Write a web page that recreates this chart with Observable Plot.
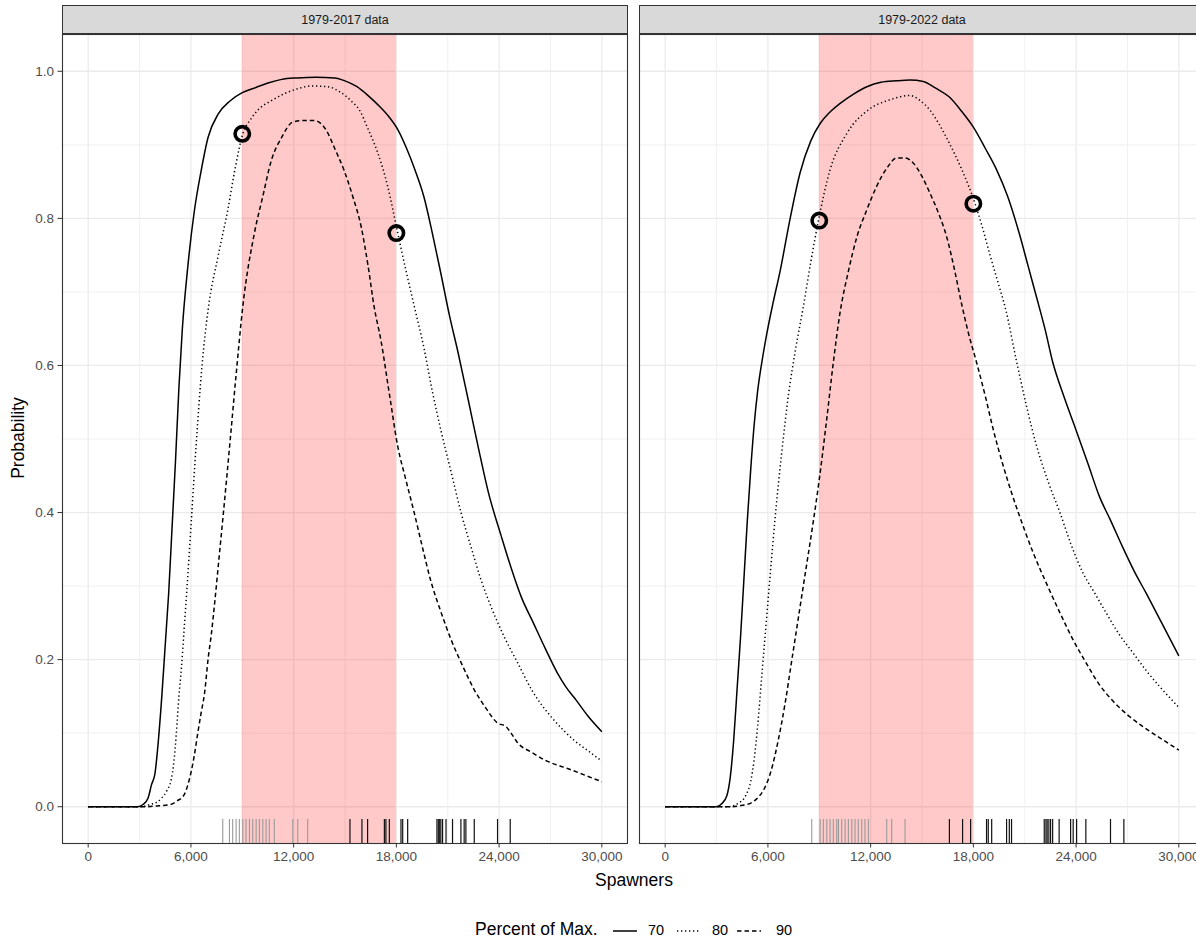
<!DOCTYPE html>
<html>
<head>
<meta charset="utf-8">
<script src="https://cdn.jsdelivr.net/npm/d3@7"></script>
<script src="https://cdn.jsdelivr.net/npm/@observablehq/plot@0.6"></script>
<style>
  html, body { margin: 0; padding: 0; background: #fff; }
  body { width: 1196px; height: 941px; overflow: hidden; font-family: "Liberation Sans", Arial, sans-serif; }
  #fig { position: relative; width: 1260px; height: 941px; }
  .strip { position: absolute; top: 5px; height: 29px; width: 566px; box-sizing: border-box;
           background: #D9D9D9; border: 1px solid #333; color: #1A1A1A; font-size: 12.5px;
           display: flex; align-items: center; justify-content: center; }
  .chart { position: absolute; top: 33px; }
  .title { position: absolute; color: #000; font-size: 17.5px; white-space: nowrap; }
  .leg { position: absolute; top: 920px; font-size: 14.5px; color: #000; white-space: nowrap; }
</style>
</head>
<body>
<div id="fig"></div>
<script>
// ---- data ----
const panels = ["1979-2017 data", "1979-2022 data"];
const band = [{x1: 9000, x2: 18000}];
const xTicks = [0, 6000, 12000, 18000, 24000, 30000];
const xMinor = [3000, 9000, 15000, 21000, 27000];
const yTicks = [0, 0.2, 0.4, 0.6, 0.8, 1.0];
const yMinor = [0.1, 0.3, 0.5, 0.7, 0.9];
const legendLevels = ["70", "80", "90"];

// 1979-2017 curves [spawners, probability]
const left70 = [[0,0],[2900,0],[3200,0.003],[3500,0.012],[3700,0.03],[3900,0.045],[4100,0.09],[4300,0.15],[4500,0.22],[4700,0.29],[4900,0.38],[5100,0.47],[5300,0.57],[5500,0.65],[5800,0.73],[6200,0.81],[6600,0.865],[7000,0.91],[7600,0.942],[8300,0.96],[9000,0.971],[9800,0.978],[10500,0.984],[11300,0.989],[12200,0.991],[13300,0.992],[14400,0.991],[15000,0.987],[15700,0.979],[16300,0.968],[16900,0.955],[17500,0.94],[18100,0.92],[18600,0.895],[19100,0.865],[19600,0.83],[20100,0.78],[20600,0.725],[21100,0.668],[21600,0.618],[22200,0.553],[22800,0.487],[23400,0.425],[24100,0.37],[24700,0.325],[25300,0.285],[26000,0.25],[26700,0.215],[27400,0.182],[27900,0.163],[28500,0.145],[29200,0.123],[30000,0.102]];
const left80 = [[0,0],[3100,0],[3600,0.003],[4000,0.006],[4300,0.012],[4600,0.022],[4850,0.037],[5000,0.06],[5150,0.1],[5300,0.15],[5450,0.19],[5600,0.24],[5750,0.29],[6000,0.38],[6300,0.49],[6650,0.6],[7000,0.675],[7600,0.75],[8150,0.811],[8600,0.87],[9030,0.915],[9500,0.935],[9900,0.947],[10700,0.96],[11500,0.97],[12200,0.976],[13000,0.98],[14000,0.979],[14700,0.972],[15350,0.96],[15900,0.945],[16300,0.924],[16900,0.89],[17500,0.843],[18080,0.78],[18600,0.725],[19050,0.68],[19600,0.625],[20100,0.565],[20600,0.512],[21200,0.455],[21800,0.398],[22400,0.35],[22950,0.308],[23600,0.268],[24300,0.231],[25100,0.195],[25900,0.159],[26500,0.138],[27200,0.118],[27800,0.103],[28400,0.09],[29200,0.076],[30000,0.062]];
const left90 = [[0,0],[3300,0],[4000,0.001],[4800,0.003],[5200,0.008],[5600,0.016],[5800,0.028],[6000,0.046],[6200,0.07],[6400,0.1],[6600,0.128],[6800,0.155],[7000,0.2],[7200,0.236],[7400,0.28],[7650,0.34],[7900,0.4],[8300,0.5],[8650,0.59],[9030,0.68],[9700,0.779],[10200,0.83],[10700,0.879],[11300,0.91],[11950,0.931],[12600,0.933],[13200,0.933],[13900,0.92],[14400,0.895],[14950,0.865],[15450,0.83],[15950,0.788],[16350,0.735],[16700,0.68],[17100,0.634],[17600,0.56],[18080,0.49],[18550,0.445],[19050,0.399],[19500,0.355],[20000,0.308],[20600,0.265],[21200,0.227],[21900,0.19],[22550,0.159],[23200,0.135],[23900,0.114],[24400,0.109],[24700,0.1],[25080,0.087],[25900,0.074],[26800,0.062],[28000,0.052],[29000,0.043],[30000,0.034]];

// 1979-2022 curves
const right70 = [[0,0],[3000,0],[3300,0.004],[3600,0.015],[3800,0.04],[4000,0.09],[4200,0.16],[4400,0.23],[4600,0.31],[4800,0.39],[5000,0.46],[5200,0.52],[5400,0.565],[5650,0.605],[5950,0.645],[6300,0.685],[6710,0.728],[7300,0.8],[7880,0.862],[8500,0.905],[9050,0.929],[9600,0.944],[10200,0.956],[11000,0.969],[11780,0.979],[12600,0.985],[13500,0.987],[14300,0.988],[15070,0.986],[15800,0.977],[16600,0.965],[17300,0.946],[18000,0.924],[18700,0.895],[19360,0.866],[20000,0.83],[20700,0.778],[21200,0.735],[21700,0.692],[22200,0.648],[22630,0.605],[23300,0.557],[24000,0.512],[24700,0.466],[25360,0.422],[26000,0.39],[26700,0.354],[27400,0.32],[28100,0.29],[29000,0.25],[30000,0.205]];
const right80 = [[0,0],[3700,0],[4300,0.005],[4700,0.015],[5000,0.035],[5200,0.065],[5400,0.11],[5650,0.18],[5900,0.25],[6150,0.32],[6450,0.4],[6800,0.48],[7200,0.56],[7600,0.62],[8070,0.68],[8500,0.74],[8950,0.797],[9630,0.866],[10600,0.915],[11960,0.949],[13100,0.961],[14300,0.967],[14900,0.96],[15470,0.947],[16000,0.928],[16600,0.902],[17350,0.865],[18100,0.82],[18500,0.79],[18950,0.752],[19400,0.716],[19900,0.675],[20500,0.608],[21100,0.545],[21700,0.49],[22400,0.44],[23070,0.399],[23700,0.357],[24400,0.318],[25100,0.29],[25770,0.263],[26500,0.235],[27330,0.209],[28100,0.185],[28900,0.163],[30000,0.135]];
const right90 = [[0,0],[3800,0],[4500,0.002],[5000,0.005],[5400,0.012],[5800,0.025],[6200,0.05],[6600,0.09],[7000,0.14],[7400,0.2],[7800,0.26],[8200,0.32],[8600,0.38],[9000,0.445],[9400,0.52],[9800,0.6],[10200,0.67],[10700,0.728],[11200,0.775],[11750,0.81],[12340,0.843],[13000,0.87],[13500,0.882],[14000,0.882],[14500,0.875],[15000,0.857],[15470,0.834],[16000,0.805],[16440,0.775],[16900,0.73],[17320,0.683],[17700,0.645],[18200,0.603],[18700,0.558],[19170,0.512],[19700,0.467],[20300,0.422],[20900,0.382],[21500,0.345],[22300,0.302],[23070,0.263],[23800,0.228],[24600,0.195],[25300,0.168],[26100,0.145],[27000,0.125],[27900,0.109],[29000,0.092],[30000,0.077]];

// highlighted points (80% curve at band edges)
const leftPts = [[9000, 0.915], [18000, 0.78]];
const rightPts = [[9000, 0.797], [18000, 0.82]];

// rug: spawner observations
const leftRugGray = [7860,8250,8440,8640,8830,9030,9220,9420,9610,9810,10000,10200,10390,10580,10870,11950,12240,12820];
const leftRugBlack = [15290,15990,16320,17300,17390,17590,18270,18370,18660,20370,20450,20530,20600,20700,20900,21280,21770,21960,22060,22550,23910,24650];
const rightRugGray = [8560,9050,9240,9440,9630,9820,10020,10120,10310,10510,10700,10900,11090,11280,11480,11670,11870,12940,13230,14010];
const rightRugBlack = [16600,17370,17840,18770,18870,19070,19940,20100,20230,22140,22240,22310,22410,22510,22630,23010,23680,23830,24030,24570,26010,26790];

// ---- drawing ----
const FONT = "'Liberation Sans', Arial, sans-serif";
const fmtX = d3.format(",");
const fmtY = d3.format(".1f");
const dash = {"70": null, "80": "1.3 2.7", "90": "4.5 3"};
const LW = 1.5;

function panel({curves, pts, rugGray, rugBlack, showY, marginLeft, width}) {
  const H = 809;
  const marks = [
    Plot.gridX(xMinor, {stroke: "#EBEBEB", strokeOpacity: 1, strokeWidth: 0.7}),
    Plot.gridY(yMinor, {stroke: "#EBEBEB", strokeOpacity: 1, strokeWidth: 0.7}),
    Plot.gridX(xTicks, {stroke: "#EBEBEB", strokeOpacity: 1, strokeWidth: 1.3}),
    Plot.gridY(yTicks, {stroke: "#EBEBEB", strokeOpacity: 1, strokeWidth: 1.3}),
    Plot.rect(band, {x1: "x1", x2: "x2", fill: "#FF0000", fillOpacity: 0.21}),
    ...legendLevels.map((lv, i) => Plot.line(curves[i], {
      x: d => d[0], y: d => d[1], stroke: "#000", strokeWidth: LW,
      strokeDasharray: dash[lv], strokeLinecap: "butt", curve: "monotone-x"
    })),
    Plot.dot(pts, {x: d => d[0], y: d => d[1], r: 7.2, stroke: "#000", strokeWidth: 3.6, fill: "none"}),
    Plot.ruleX(rugGray, {x: d => d, stroke: "#9A9A9A", strokeWidth: 1.1, insetTop: H - 24}),
    Plot.ruleX(rugBlack, {x: d => d, stroke: "#111", strokeWidth: 1.2, insetTop: H - 24}),
    Plot.frame({stroke: "#333", strokeWidth: 1.1}),
    Plot.axisX({ticks: xTicks, tickFormat: fmtX, tickSize: 4.5, tickPadding: 3, fontSize: 13.5,
                stroke: "#333", fill: "#4D4D4D", label: null})
  ];
  if (showY) marks.push(Plot.axisY({ticks: yTicks, tickFormat: fmtY, tickSize: 4.5, tickPadding: 4,
                fontSize: 13.5, stroke: "#333", fill: "#4D4D4D", label: null}));
  return Plot.plot({
    width, height: 1 + H + 30,
    marginTop: 1, marginBottom: 30, marginLeft, marginRight: 1,
    style: {fontFamily: FONT, background: "transparent", overflow: "visible"},
    x: {domain: [-1500, 31500], label: null},
    y: {domain: [-0.05, 1.05], label: null, ...(showY ? {} : {axis: null})},
    marks
  });
}

const fig = document.getElementById("fig");

function add(el, cls, style, text) {
  const d = document.createElement("div");
  if (cls) d.className = cls;
  Object.assign(d.style, style);
  if (text != null) d.textContent = text;
  if (el) d.appendChild(el);
  fig.appendChild(d);
  return d;
}

add(null, "strip", {left: "62px"}, panels[0]);
add(null, "strip", {left: "639px"}, panels[1]);

add(panel({curves: [left70, left80, left90], pts: leftPts, rugGray: leftRugGray, rugBlack: leftRugBlack,
           showY: true, marginLeft: 62, width: 62 + 565 + 1}), "chart", {left: "0px"});
add(panel({curves: [right70, right80, right90], pts: rightPts, rugGray: rightRugGray, rugBlack: rightRugBlack,
           showY: false, marginLeft: 1, width: 1 + 565 + 1}), "chart", {left: "638px"});

// axis titles
add(null, "title", {left: "634px", top: "870px", transform: "translateX(-50%)"}, "Spawners");
add(null, "title", {left: "18px", top: "438px", transform: "translate(-50%,-50%) rotate(-90deg)"}, "Probability");

// legend
add(null, "leg", {left: "475px", top: "919px", fontSize: "17.5px"}, "Percent of Max.");
const swX = [613, 677, 737];
const lbX = [648, 712, 776];
legendLevels.forEach((lv, i) => {
  const svg = d3.create("svg").attr("width", 24).attr("height", 10);
  svg.append("line").attr("x1", 0).attr("x2", 24).attr("y1", 5).attr("y2", 5)
     .attr("stroke", "#000").attr("stroke-width", LW)
     .attr("stroke-dasharray", dash[lv]);
  add(svg.node(), "leg", {left: swX[i] + "px", top: "926px", lineHeight: "0"});
  add(null, "leg", {left: lbX[i] + "px", top: "922px"}, lv);
});
</script>
</body>
</html>
